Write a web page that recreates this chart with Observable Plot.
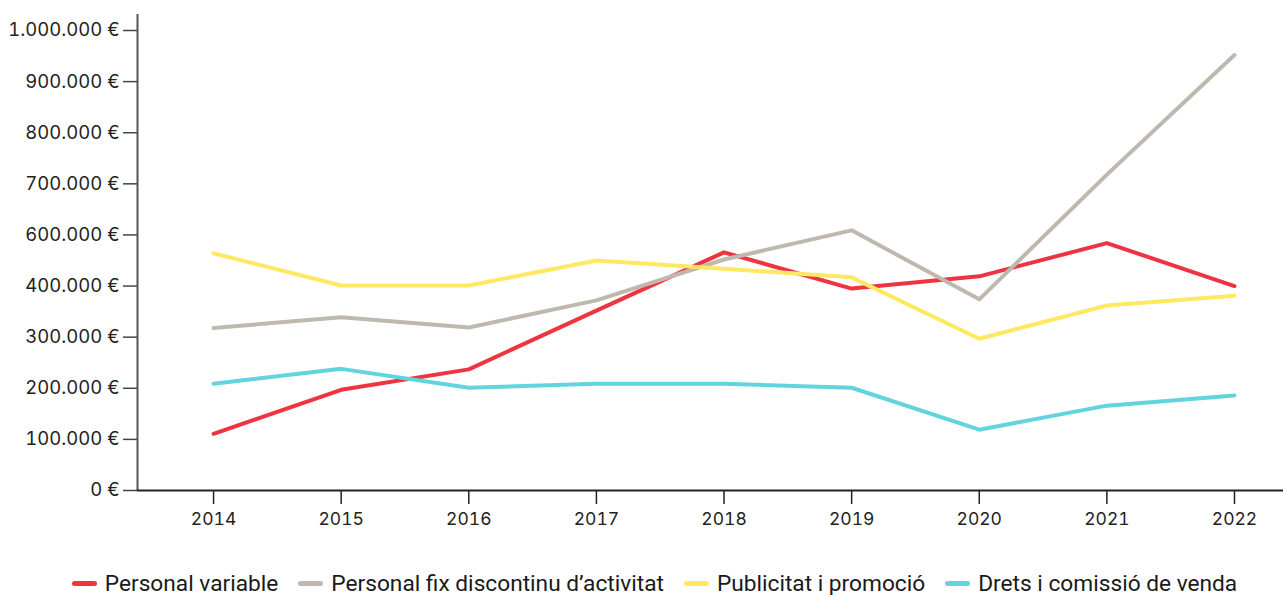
<!DOCTYPE html>
<html>
<head>
<meta charset="utf-8">
<script src="https://cdn.jsdelivr.net/npm/d3@7"></script>
<script src="https://cdn.jsdelivr.net/npm/@observablehq/plot@0.6"></script>
<style>
  html, body { margin: 0; padding: 0; background: #fff; }
  #chart svg { display: block; }
  .legend {
    display: flex; justify-content: center; align-items: center;
    font-family: Roboto, "Noto Sans", sans-serif; font-size: 22.7px; color: #1a1a1a;
    height: 76px; padding-left: 24px;
  }
  .legend .item { display: flex; align-items: center; margin: 0 10px; }
  .legend .sw { width: 25px; height: 5px; border-radius: 3px; margin-right: 8px; }
</style>
</head>
<body>
<div id="chart"></div>
<div class="legend" id="legend"></div>
<script>
// Years on the horizontal axis
const years = [2014, 2015, 2016, 2017, 2018, 2019, 2020, 2021, 2022];

// Series names and colours
const seriesNames = [
  "Personal variable",
  "Personal fix discontinu d’activitat",
  "Publicitat i promoció",
  "Drets i comissió de venda"
];
const seriesColors = ["#ee3441", "#bfb8ae", "#ffe963", "#62d4de"];

// Yearly amounts (€) per series
const personalVariable = [111000, 197000, 237000, 352000, 466000, 395000, 419000, 484000, 400000];
const personalFix      = [318000, 339000, 319000, 372000, 452000, 509000, 374000, 618000, 852000];
const publicitat       = [464000, 401000, 401000, 450000, 434000, 417000, 297000, 362000, 381000];
const drets            = [209000, 238000, 201000, 209000, 209000, 201000, 119000, 166000, 186000];

// Axis ticks and their printed labels
const yTicks = [0, 100000, 200000, 300000, 400000, 500000, 600000, 700000, 800000, 900000];
const yTickLabels = ["0 €", "100.000 €", "200.000 €", "300.000 €", "400.000 €",
                     "600.000 €", "700.000 €", "800.000 €", "900.000 €", "1.000.000 €"];

const allSeries = [personalVariable, personalFix, publicitat, drets];
const rows = allSeries.flatMap((vals, i) =>
  vals.map((v, j) => ({ year: years[j], value: v, series: seriesNames[i] })));

const chart = Plot.plot({
  width: 1285,
  height: 545,
  marginLeft: 137,
  marginRight: 2,
  marginTop: 14,
  marginBottom: 55,
  style: { fontFamily: "Inter, 'Noto Sans', sans-serif", fontSize: "18px", color: "#222", background: "#fff" },
  x: { type: "linear", domain: [2013.404, 2022.384] },
  y: { domain: [0, 931300] },
  color: { domain: seriesNames, range: seriesColors },
  marks: [
    Plot.axisX({ ticks: years, tickFormat: d => String(d), tickSize: 14, tickPadding: 8,
                 stroke: "#222", strokeWidth: 1.5, label: null, fontSize: 17.5 }),
    Plot.axisY({ ticks: yTicks, tickFormat: (d, i) => yTickLabels[i], tickSize: 14, tickPadding: 4,
                 stroke: "#444", strokeWidth: 1.5, label: null, fontSize: 18.5 }),
    Plot.ruleX([2013.404], { stroke: "#555", strokeWidth: 2 }),
    Plot.ruleY([0], { stroke: "#222", strokeWidth: 2 }),
    Plot.line(rows, { x: "year", y: "value", z: "series", stroke: "series",
                      strokeWidth: 4, strokeLinecap: "round", strokeLinejoin: "round" })
  ]
});
document.getElementById("chart").append(chart);

// Legend below the chart
const legend = document.getElementById("legend");
seriesNames.forEach((name, i) => {
  const item = document.createElement("div");
  item.className = "item";
  const sw = document.createElement("span");
  sw.className = "sw";
  sw.style.background = seriesColors[i];
  const label = document.createElement("span");
  label.textContent = name;
  item.append(sw, label);
  legend.append(item);
});
</script>
</body>
</html>
